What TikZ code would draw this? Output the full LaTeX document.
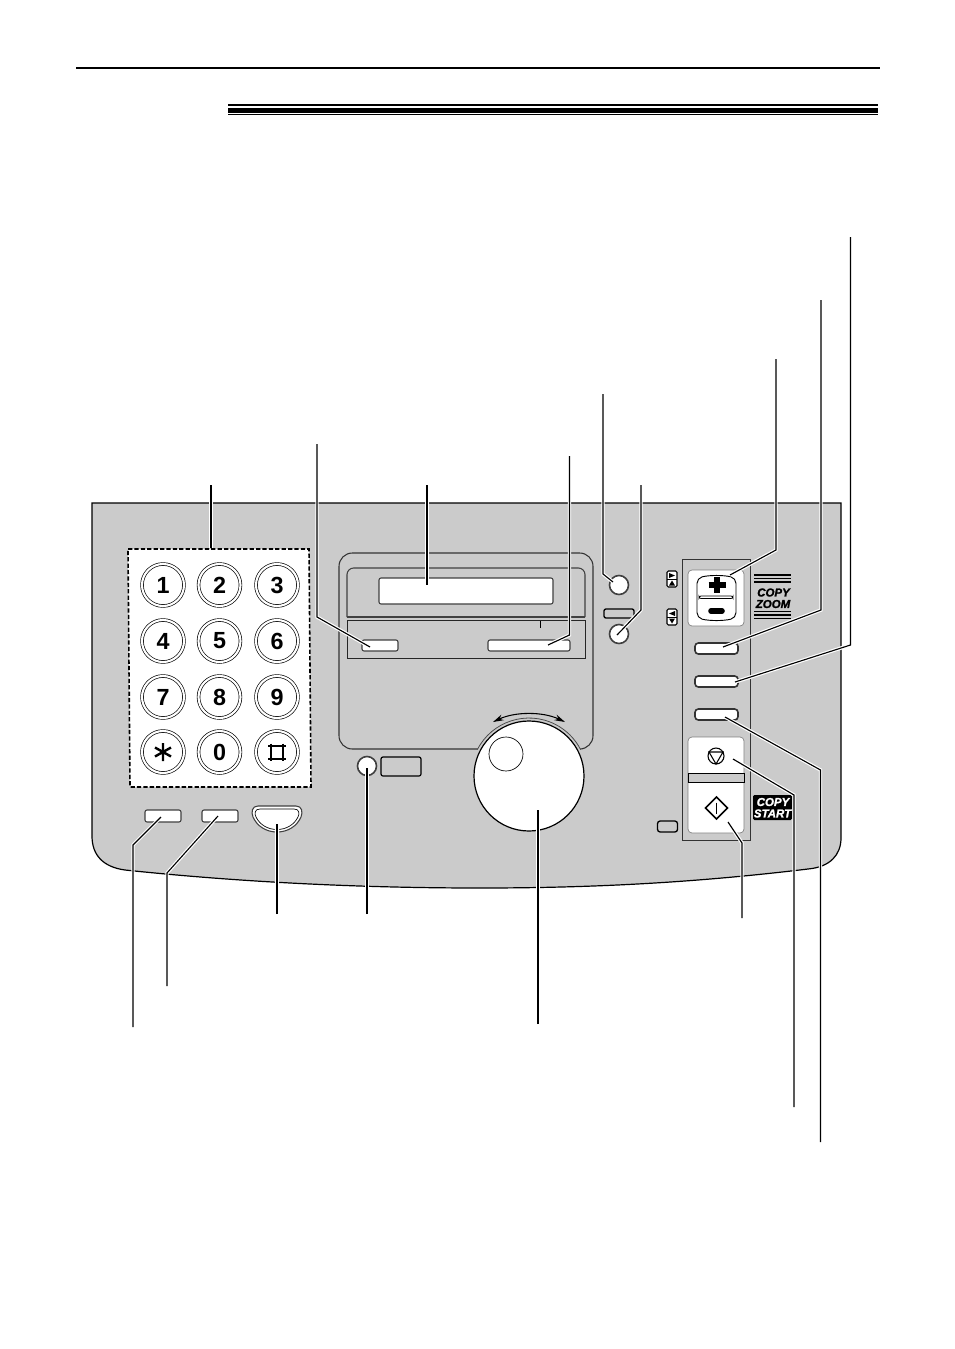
\documentclass[tikz,border=0pt]{standalone}
\usepackage{fontspec}
\usetikzlibrary{arrows.meta}
\newfontfamily\panelfont[BoldItalicFeatures={FakeBold=1.6}]{Liberation Sans}
\definecolor{panelgray}{rgb}{0.796,0.796,0.796}
\tikzset{
  leader/.style={line width=0.85pt,preaction={draw=white,line width=2.6pt}},
  softkey/.style={draw=black!75,fill=white,line width=0.8pt,rounded corners=1.5pt},
  panelkey/.style={draw=black!80,fill=white,line width=1.2pt,rounded corners=2.5pt},
  keycap/.style={circle,draw,fill=white,minimum size=31.5pt,inner sep=0pt,line width=0.5pt,double=white,double distance=1.6pt,font=\panelfont\bfseries\fontsize{17.5}{17.5}\selectfont},
  padglyph/.style={line width=1.8pt},
  tinyicon/.style={draw,fill=white,line width=0.8pt,rounded corners=1pt},
  labeltext/.style={inner sep=0pt,font=\panelfont\bfseries\itshape\fontsize{8.6}{8.6}\selectfont}
}
\begin{document}
\begin{tikzpicture}[x=0.75pt,y=0.75pt,yscale=-1,xscale=1]
	\useasboundingbox (0,0) rectangle (954,1349);

	%Rules at the top of the page
	\fill (76,67) rectangle (880,69.2);
	\fill (228,104) rectangle (878,106);
	\fill (228,108) rectangle (878,112.5);
	\fill (228,114.2) rectangle (878,115.4);

	%Panel body
	\draw [fill=panelgray,line width=0.9pt] (92,503) -- (841,503) -- (841,838) .. controls (841,855) and (830,867) .. (808,869) .. controls (700,882) and (600,888) .. (480,888) .. controls (340,888) and (220,880) .. (125,870) .. controls (103,867) and (92,855) .. (92,836) -- cycle;

	%Keypad
	\draw [fill=white,line width=1.2pt,dash pattern=on 3.2pt off 1.6pt] (128,549) -- (309,549) -- (311,787) -- (130,787) -- cycle;
	\foreach \keyname/\px/\py in {1/163/585,2/219.5/585,3/277/585,4/163/641,5/219.5/641,6/277/641,7/163/697,8/219.5/697,9/277/697,0/219.5/752}
		\node (key\keyname) [keycap] at (\px,\py) {\keyname};
	\node (keystar) [keycap] at (163,752) {};
	\node (keyhash) [keycap] at (277,752) {};
	\draw [padglyph] (163,743) -- (163,761) (155,747.5) -- (171,756.5) (155,756.5) -- (171,747.5);
	\draw [line width=1.5pt] (268,746) -- (286,746) (268,758.5) -- (286,758.5);
	\draw [line width=2pt] (271,743.5) -- (271,761) (283,743.5) -- (283,761);

	%Keys below the keypad
	\draw [softkey] (145,810) rectangle (181,822);
	\draw [softkey] (202,810) rectangle (238,822);
	\draw [draw=black!75,fill=white,line width=0.8pt] (258,806) -- (296,806) .. controls (302,806) and (303,812) .. (301,817) .. controls (297,826) and (288,832) .. (277,832) .. controls (266,832) and (257,826) .. (253,817) .. controls (251,812) and (252,806) .. (258,806) -- cycle;
	\draw [draw=black,line width=0.5pt] (260,809) -- (294,809) .. controls (299,809) and (300,813) .. (298,817) .. controls (294,825) and (286,829.5) .. (277,829.5) .. controls (268,829.5) and (260,825) .. (256,817) .. controls (254,813) and (255,809) .. (260,809) -- cycle;

	%Display housing
	\draw [line width=0.8pt,draw=black!80,rounded corners=10pt] (339,749) -- (339,553) -- (593,553) -- (593,749) -- cycle;
	\draw [line width=0.8pt,draw=black!75,rounded corners=5pt] (347,617) -- (347,568) -- (585,568) -- (585,617);
	\draw [line width=0.8pt,draw=black!75] (347,617) -- (585,617);
	\draw [line width=0.6pt,draw=black!85] (347,620) rectangle (585,658);
	\draw [softkey] (379,578) rectangle (553,604);
	\draw [softkey] (362,640) rectangle (398,651);
	\draw [softkey] (488,640) rectangle (570,651);
	\draw [line width=0.7pt] (540,621) -- (540,628);

	%Dial
	\fill [panelgray] (529,776) circle (58);
	\draw [line width=0.6pt,draw=black!70] (477.3,749.7) arc (-153:-27:58);
	\draw [fill=white,line width=0.9pt] (529,776) circle (55);
	\draw [line width=0.5pt] (506,754) circle (17);
	\draw [line width=0.8pt,{Stealth[length=8pt,width=4.5pt]}-{Stealth[length=8pt,width=4.5pt]}] (493,722) .. controls (515,711.5) and (543,711.5) .. (565,722);

	%Keys round the display
	\draw [fill=white,draw=black!75,line width=1.2pt] (367,766) circle (9.5);
	\draw [fill=panelgray,line width=0.9pt,rounded corners=1.5pt] (381,757) rectangle (421,776);
	\draw [fill=white,draw=black!75,line width=1.2pt] (619,585) circle (9.5);
	\draw [fill=panelgray,line width=1pt,rounded corners=1.5pt] (604,609) rectangle (634,618);
	\draw [fill=white,draw=black!75,line width=1.2pt] (619,634) circle (9.5);

	%Key strip
	\draw [line width=0.7pt,draw=black!80] (682,559) rectangle (750,840);
	\draw [fill=white,draw=black!50,line width=0.5pt,rounded corners=3pt] (688,570) rectangle (744,626);
	\draw [line width=0.7pt,rounded corners=4pt] (697,578) .. controls (710,575) and (723,575) .. (736,578) -- (736,618) .. controls (723,621) and (710,621) .. (697,618) -- cycle;
	\draw [fill=white,line width=0.6pt,rounded corners=1.5pt] (699,596) rectangle (733,598.5);
	\draw [line width=3.9pt] (708.5,585) -- (725.5,585);
	\draw [line width=3.9pt] (717,577) -- (717,593);
	\draw [line width=4.2pt,line cap=round] (711,611) -- (722,611);
	\draw [panelkey] (695,643) rectangle (738,654);
	\draw [panelkey] (695,676) rectangle (738,687);
	\draw [panelkey] (695,709) rectangle (738,720);
	\draw [fill=white,draw=black!50,line width=0.5pt,rounded corners=3pt] (688,737) rectangle (744,833);
	\draw [fill=panelgray,line width=0.5pt] (688,773) rectangle (744,782);
	\draw [line width=0.8pt] (716,756) circle (8);
	\draw [line width=0.8pt] (709,752) -- (723,752) -- (716,764) -- cycle;
	\draw [line width=1.2pt] (716.5,797) -- (727.5,808) -- (716.5,819) -- (705.5,808) -- cycle;
	\draw [line width=1.4pt] (716.5,802.5) -- (716.5,813.5);
	\draw [fill=panelgray,line width=1pt,rounded corners=2pt] (657.5,821) rectangle (677.5,832);

	%Small arrow icons
	\draw [tinyicon] (667,571) rectangle (677,587);
	\draw [line width=0.6pt] (667,579) -- (677,579);
	\fill (669,573) -- (675,575.5) -- (669,578) -- cycle;
	\fill (669,585.5) -- (675,585.5) -- (672,580.5) -- cycle;
	\draw [tinyicon] (667,609) rectangle (677,625);
	\draw [line width=0.6pt] (667,617) -- (677,617);
	\fill (675,611) -- (669,613.5) -- (675,616) -- cycle;
	\fill (669,618.5) -- (675,618.5) -- (672,623.5) -- cycle;

	%Printed marks beside the strip
	\foreach \py in {575,578.5,582,611.5,615,618.5}
		\fill (754,\py-0.9) rectangle (791,\py+0.9);
	\node (copyzoomA) [labeltext] at (773.5,592.5) {COPY};
	\node (copyzoomB) [labeltext] at (773,604) {ZOOM};
	\fill [rounded corners=1pt] (753,795) rectangle (792,820);
	\node (copystartA) [labeltext,text=white] at (773,802) {COPY};
	\node (copystartB) [labeltext,text=white] at (772.5,813.5) {START};

	%Free ends of the leaders
	\coordinate (padTop) at (211,485);
	\coordinate (padEnd) at (211,548);
	\coordinate (softTop) at (317,444);
	\coordinate (softBend) at (317,617);
	\coordinate (softEnd) at (370,647);
	\coordinate (lcdTop) at (427,485);
	\coordinate (lcdEnd) at (427,585);
	\coordinate (longTop) at (569.5,456);
	\coordinate (longBend) at (569.5,635);
	\coordinate (longEnd) at (548,645);
	\coordinate (upperTop) at (603,394);
	\coordinate (upperBend) at (603,574);
	\coordinate (upperEnd) at (613,582);
	\coordinate (lowerTop) at (641,485);
	\coordinate (lowerBend) at (641,610);
	\coordinate (lowerEnd) at (617,635);
	\coordinate (zoomTop) at (776,359);
	\coordinate (zoomBend) at (776,550);
	\coordinate (zoomEnd) at (730,575);
	\coordinate (keyATop) at (821,300);
	\coordinate (keyABend) at (821,610);
	\coordinate (keyAEnd) at (723,647);
	\coordinate (keyBTop) at (850.5,237);
	\coordinate (keyBBend) at (850.5,645);
	\coordinate (keyBEnd) at (735,682);
	\coordinate (keyCTop) at (820.5,1142);
	\coordinate (keyCBend) at (820.5,770);
	\coordinate (keyCEnd) at (725,717);
	\coordinate (stopTop) at (794,1107);
	\coordinate (stopBend) at (794,795);
	\coordinate (stopEnd) at (733,759);
	\coordinate (startTop) at (742,918);
	\coordinate (startBend) at (742,843);
	\coordinate (startEnd) at (728,822);
	\coordinate (dialTop) at (538,1024);
	\coordinate (dialEnd) at (538,810);
	\coordinate (dotTop) at (367,914);
	\coordinate (dotEnd) at (367,768);
	\coordinate (pillTop) at (277,914);
	\coordinate (pillEnd) at (277,824);
	\coordinate (rightTop) at (167,986);
	\coordinate (rightBend) at (167,873);
	\coordinate (rightEnd) at (218,816);
	\coordinate (leftTop) at (133,1027);
	\coordinate (leftBend) at (133,845);
	\coordinate (leftEnd) at (161,817);

	%Leaders
	\foreach \lname in {pad,lcd,dial,dot,pill}
		\draw [leader] (\lname Top) -- (\lname End);
	\foreach \lname in {soft,long,upper,lower,zoom,keyA,keyB,keyC,stop,start,right,left}
		\draw [leader] (\lname Top) -- (\lname Bend) -- (\lname End);

\end{tikzpicture}
\end{document}
